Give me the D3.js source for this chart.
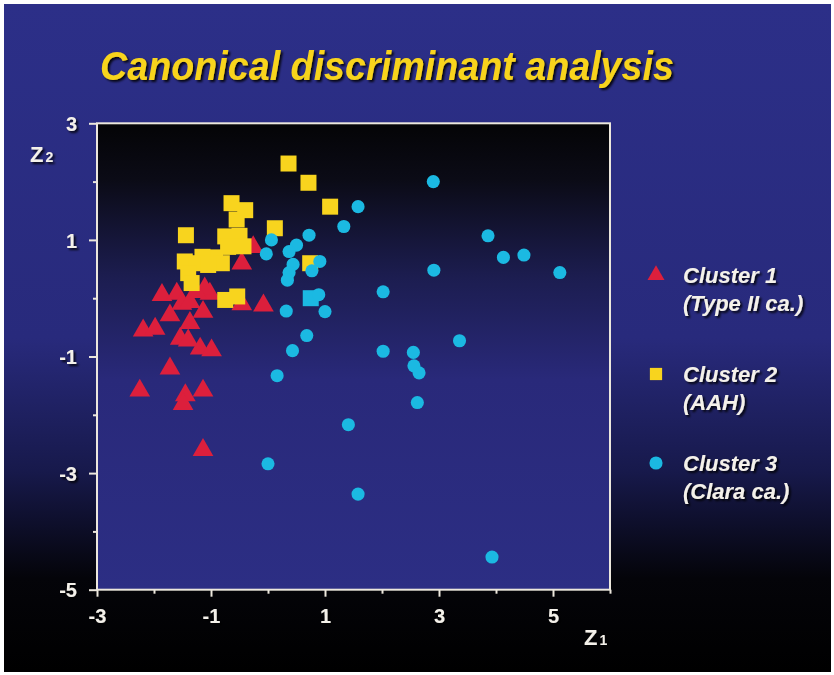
<!DOCTYPE html>
<html>
<head>
<meta charset="utf-8">
<script src="https://cdn.jsdelivr.net/npm/d3@7"></script>
<style>
  html, body { margin: 0; padding: 0; background: #fff; }
  svg { display: block; }
</style>
</head>
<body>
<div id="chart"></div>
<script>
// canonical variates [Z1, Z2]
const cluster1 = [
  [-1.86, 0.09], [-1.60, 0.11], [-1.51, -0.06], [-1.72, -0.26], [-1.37, -0.39],
  [-1.14, -0.20], [-1.02, 0.11], [-0.08, -0.09], [-0.46, -0.07], [-2.19, -0.52],
  [-1.98, -0.49], [-1.54, -0.66], [-1.40, -0.69], [-1.19, -0.83], [-0.99, -0.86],
  [-1.72, -1.17], [-2.25, -1.55], [-1.45, -1.63], [-1.14, -1.55], [-1.49, -1.78],
  [-1.14, -2.57], [-0.26, 0.91], [-0.46, 0.63], [-1.11, 0.20], [-1.37, -0.03],
  [-1.26, 0.14]
];
const cluster2 = [
  [0.36, 2.31], [0.71, 1.98], [1.09, 1.57], [-0.64, 1.63], [-0.40, 1.51],
  [-0.55, 1.35], [0.12, 1.20], [-1.44, 1.08], [-0.75, 1.06], [-0.50, 1.07],
  [-0.43, 0.89], [-0.70, 0.88], [-0.93, 0.70], [-1.15, 0.71], [-1.46, 0.63],
  [-1.25, 0.60], [-0.81, 0.60], [-1.05, 0.57], [-1.40, 0.43], [-1.34, 0.26],
  [0.74, 0.60], [-0.75, -0.03], [-0.54, 0.03]
];
const cluster3 = [
  [2.90, 2.00], [1.58, 1.57], [1.33, 1.23], [0.72, 1.08], [0.50, 0.91],
  [0.37, 0.80], [0.06, 1.00], [-0.03, 0.76], [3.86, 1.07], [4.13, 0.70],
  [4.49, 0.74], [5.12, 0.44], [2.91, 0.48], [2.02, 0.11], [0.44, 0.58],
  [0.37, 0.44], [0.34, 0.31], [0.91, 0.63], [0.77, 0.47], [0.89, 0.06],
  [0.32, -0.22], [1.00, -0.23], [0.68, -0.64], [0.43, -0.90], [0.16, -1.33],
  [2.02, -0.91], [2.55, -0.93], [3.36, -0.73], [2.56, -1.16], [2.65, -1.28],
  [2.62, -1.79], [1.41, -2.17], [0.00, -2.84], [1.58, -3.36], [3.93, -4.44]
];
// one cluster-3 case is printed with a square marker
const cluster3Square = [[0.75, 0.00]];

const clusterNames = ['Cluster 1', 'Cluster 2', 'Cluster 3'];
const clusterTypes = ['(Type II ca.)', '(AAH)', '(Clara ca.)'];
const xTickLabels = [-3, -1, 1, 3, 5];
const yTickLabels = [3, 1, -1, -3, -5];

const W = 834, H = 675;
const red = '#dc1f3c', yellow = '#f8d41e', cyan = '#1bb9e2';

const svg = d3.select('#chart').append('svg')
    .attr('width', W)
    .attr('height', H);

const defs = svg.append('defs');

const bg = defs.append('linearGradient').attr('id', 'bg')
    .attr('x1', 0).attr('y1', 0).attr('x2', 0).attr('y2', 1);
bg.append('stop').attr('offset', '0%').attr('stop-color', '#2c2f88');
bg.append('stop').attr('offset', '50%').attr('stop-color', '#282a7c');
bg.append('stop').attr('offset', '70%').attr('stop-color', '#17194b');
bg.append('stop').attr('offset', '86%').attr('stop-color', '#040409');
bg.append('stop').attr('offset', '100%').attr('stop-color', '#000');

const pg = defs.append('linearGradient').attr('id', 'plotbg')
    .attr('x1', 0).attr('y1', 0).attr('x2', 0).attr('y2', 1);
pg.append('stop').attr('offset', '0%').attr('stop-color', '#040406');
pg.append('stop').attr('offset', '12%').attr('stop-color', '#0b0b16');
pg.append('stop').attr('offset', '33%').attr('stop-color', '#1c1d50');
pg.append('stop').attr('offset', '55%').attr('stop-color', '#29297a');
pg.append('stop').attr('offset', '100%').attr('stop-color', '#2c2e84');

const shadow = defs.append('filter').attr('id', 'shadow')
    .attr('x', '-20%').attr('y', '-30%').attr('width', '140%').attr('height', '160%');
shadow.append('feDropShadow')
    .attr('dx', 2).attr('dy', 2).attr('stdDeviation', 1.2)
    .attr('flood-color', '#000').attr('flood-opacity', 0.85);

// slide background with thin white edge
svg.append('rect').attr('width', W).attr('height', H).attr('fill', '#fff');
svg.append('rect')
    .attr('x', 4).attr('y', 4)
    .attr('width', W - 7).attr('height', H - 7)
    .attr('fill', 'url(#bg)');

// title
svg.append('text')
    .attr('x', 387).attr('y', 80)
    .attr('text-anchor', 'middle')
    .attr('textLength', 574)
    .attr('lengthAdjust', 'spacingAndGlyphs')
    .attr('filter', 'url(#shadow)')
    .style('font-family', '"Liberation Sans", Arial, sans-serif')
    .style('font-weight', 'bold')
    .style('font-style', 'italic')
    .style('font-size', '41px')
    .style('fill', yellow)
    .text('Canonical discriminant analysis');

const x = d3.scaleLinear().domain([-3, 6]).range([97, 610]);
const y = d3.scaleLinear().domain([-5, 3]).range([589.7, 123.3]);

// plot panel
svg.append('rect')
    .attr('x', x(-3)).attr('y', y(3))
    .attr('width', x(6) - x(-3)).attr('height', y(-5) - y(3))
    .attr('fill', 'url(#plotbg)');

const axisColor = '#ece7dd';
const tickFont = g => g.selectAll('text')
    .attr('filter', 'url(#shadow)')
    .style('font-family', '"Liberation Sans", Arial, sans-serif')
    .style('font-weight', 'bold')
    .style('font-size', '20px')
    .style('fill', '#f4f1ea');

const xAxis = svg.append('g')
    .attr('transform', `translate(0,${y(-5)})`)
    .call(d3.axisBottom(x)
        .tickValues(d3.range(-3, 7))
        .tickSize(7)
        .tickPadding(12)
        .tickFormat(d => xTickLabels.includes(d) ? d : ''));
xAxis.select('.domain').remove();
xAxis.selectAll('.tick line')
    .attr('stroke', axisColor).attr('stroke-width', 2)
    .attr('y2', d => xTickLabels.includes(d) ? 7 : 4);
xAxis.call(tickFont);

const yAxis = svg.append('g')
    .attr('transform', `translate(${x(-3)},0)`)
    .call(d3.axisLeft(y)
        .tickValues(d3.range(-5, 4))
        .tickSize(8)
        .tickPadding(12)
        .tickFormat(d => yTickLabels.includes(d) ? d : ''));
yAxis.select('.domain').remove();
yAxis.selectAll('.tick line')
    .attr('stroke', axisColor).attr('stroke-width', 2)
    .attr('x2', d => yTickLabels.includes(d) ? -8 : -4);
yAxis.call(tickFont);
yAxis.selectAll('text').attr('dy', '0.36em');

// panel frame
svg.append('rect')
    .attr('x', x(-3)).attr('y', y(3))
    .attr('width', x(6) - x(-3)).attr('height', y(-5) - y(3))
    .attr('fill', 'none')
    .attr('stroke', axisColor)
    .attr('stroke-width', 2);

// axis titles Z1 / Z2
const axisTitle = (px, py, sub) => {
  const t = svg.append('text')
      .attr('x', px).attr('y', py)
      .attr('filter', 'url(#shadow)')
      .style('font-family', '"Liberation Sans", Arial, sans-serif')
      .style('font-weight', 'bold')
      .style('fill', '#f4f1ea');
  t.append('tspan').style('font-size', '22px').text('Z');
  t.append('tspan').attr('dx', 2).style('font-size', '14px').text(sub);
};
axisTitle(30, 162, '2');
axisTitle(584, 645, '1');

// markers
const tri = d3.symbol().type(d3.symbolTriangle).size(185);
const sq = d3.symbol().type(d3.symbolSquare).size(256);
const dot = d3.symbol().type(d3.symbolCircle).size(135);

const marks = svg.append('g');
marks.selectAll('.c1').data(cluster1).join('path')
    .attr('class', 'c1')
    .attr('d', tri)
    .attr('transform', d => `translate(${x(d[0])},${y(d[1]) + 2})`)
    .attr('fill', red);
marks.selectAll('.c2').data(cluster2).join('path')
    .attr('class', 'c2')
    .attr('d', sq)
    .attr('transform', d => `translate(${x(d[0])},${y(d[1])})`)
    .attr('fill', yellow);
marks.selectAll('.c3s').data(cluster3Square).join('path')
    .attr('class', 'c3s')
    .attr('d', sq)
    .attr('transform', d => `translate(${x(d[0])},${y(d[1])})`)
    .attr('fill', cyan);
marks.selectAll('.c3').data(cluster3).join('path')
    .attr('class', 'c3')
    .attr('d', dot)
    .attr('transform', d => `translate(${x(d[0])},${y(d[1])})`)
    .attr('fill', cyan);

// legend
const legendSymbols = [
  d3.symbol().type(d3.symbolTriangle).size(125),
  d3.symbol().type(d3.symbolSquare).size(150),
  d3.symbol().type(d3.symbolCircle).size(135)
];
const legendColors = [red, yellow, cyan];
const legendY = [283, 382, 471];

const legend = svg.append('g');
clusterNames.forEach((name, i) => {
  legend.append('path')
      .attr('d', legendSymbols[i])
      .attr('transform', `translate(656,${legendY[i] - 8})`)
      .attr('fill', legendColors[i]);
  const t = legend.append('text')
      .attr('filter', 'url(#shadow)')
      .style('font-family', '"Liberation Sans", Arial, sans-serif')
      .style('font-weight', 'bold')
      .style('font-style', 'italic')
      .style('font-size', '22px')
      .style('fill', '#f4f1ea');
  t.append('tspan').attr('x', 683).attr('y', legendY[i]).text(name);
  t.append('tspan').attr('x', 683).attr('y', legendY[i] + 28).text(clusterTypes[i]);
});
</script>
</body>
</html>
